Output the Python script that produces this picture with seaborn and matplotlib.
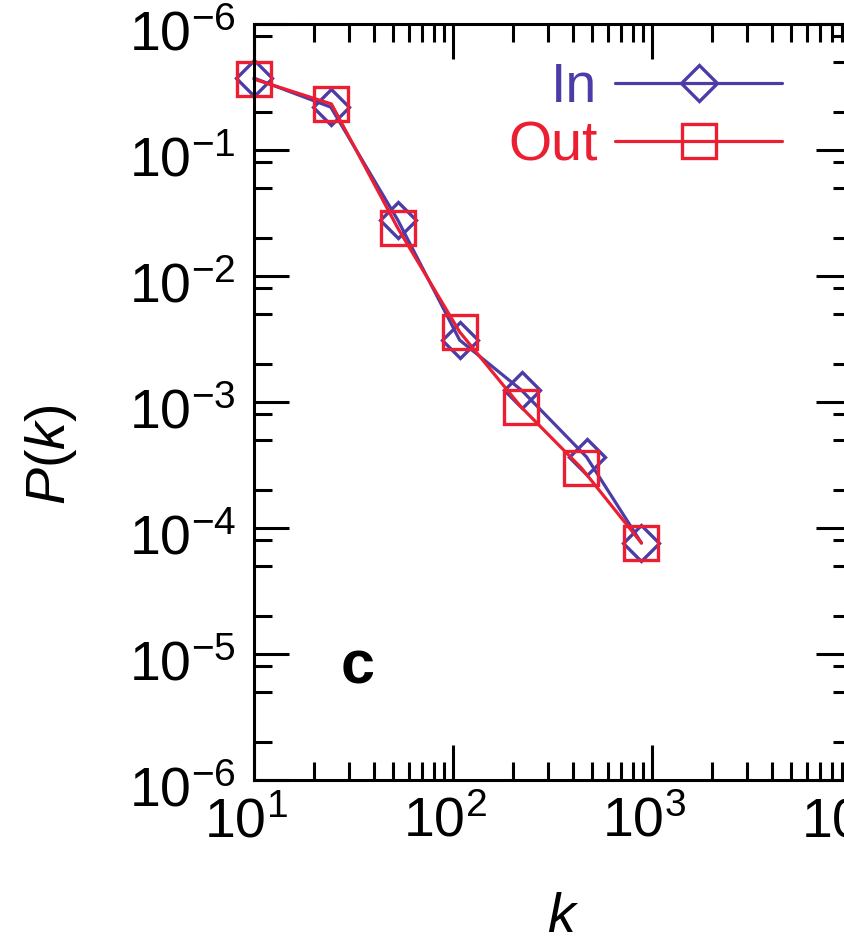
import matplotlib
matplotlib.use("Agg")
import matplotlib.pyplot as plt
import matplotlib.ticker as mticker
import matplotlib.transforms as mtransforms
import seaborn as sns
import pandas as pd

# ---- data ----
k_in = [10, 24.3, 52.8, 108, 221, 469, 885]
p_in = [0.372, 0.219, 0.0278, 0.00310, 0.00124, 3.66e-4, 7.6e-5]
k_out = [10, 24.5, 52.8, 108, 220, 442, 885]
p_out = [0.365, 0.232, 0.0240, 0.00360, 0.000912, 2.99e-4, 7.6e-5]
series_names = ["In", "Out"]

x_ticks = [1e1, 1e2, 1e3, 1e4]
x_tick_labels = [r"$10^{1}$", r"$10^{2}$", r"$10^{3}$", r"$10^{4}$"]
y_ticks = [1e0, 1e-1, 1e-2, 1e-3, 1e-4, 1e-5, 1e-6]
y_tick_labels = [r"$10^{-6}$", r"$10^{-1}$", r"$10^{-2}$", r"$10^{-3}$",
                 r"$10^{-4}$", r"$10^{-5}$", r"$10^{-6}$"]
panel_label = "c"

sns.set_theme(style="ticks")
plt.rcParams["font.family"] = ["Liberation Sans", "DejaVu Sans"]
plt.rcParams["mathtext.fontset"] = "custom"
plt.rcParams["mathtext.rm"] = "Liberation Sans"
plt.rcParams["mathtext.it"] = "Liberation Sans:italic"
plt.rcParams["mathtext.bf"] = "Liberation Sans:bold"
plt.rcParams["text.color"] = "black"

W, H = 845, 946
fig = plt.figure(figsize=(W / 100, H / 100), dpi=100)
ax_left, ax_right, ax_top, ax_bottom = 254, 851, 24, 780
ax = fig.add_axes([ax_left / W, 1 - ax_bottom / H,
                   (ax_right - ax_left) / W, (ax_bottom - ax_top) / H])

c_in = "#4B3CA8"
c_out = "#EB1E32"

df_in = pd.DataFrame({"k": k_in, "P": p_in})
df_out = pd.DataFrame({"k": k_out, "P": p_out})

sns.lineplot(data=df_in, x="k", y="P", ax=ax, color=c_in, lw=2.3,
             marker="D", markersize=18, markerfacecolor="none",
             markeredgecolor=c_in, markeredgewidth=2.4, clip_on=False,
             label=series_names[0], sort=False)
sns.lineplot(data=df_out, x="k", y="P", ax=ax, color=c_out, lw=2.3,
             marker="s", markersize=25, markerfacecolor="none",
             markeredgecolor=c_out, markeredgewidth=2.4, clip_on=False,
             label=series_names[1], sort=False)

ax.set_xscale("log")
ax.set_yscale("log")
ax.set_xlim(1e1, 1e4)
ax.set_ylim(1e-6, 1e0)

ax.xaxis.set_major_locator(mticker.FixedLocator(x_ticks))
ax.xaxis.set_major_formatter(mticker.FixedFormatter(x_tick_labels))
ax.xaxis.set_minor_locator(mticker.LogLocator(base=10, subs=range(2, 10), numticks=20))
ax.xaxis.set_minor_formatter(mticker.NullFormatter())
ax.yaxis.set_major_locator(mticker.FixedLocator(y_ticks))
ax.yaxis.set_major_formatter(mticker.FixedFormatter(y_tick_labels))
ax.yaxis.set_minor_locator(mticker.LogLocator(base=10, subs=[2, 5, 8], numticks=20))
ax.yaxis.set_minor_formatter(mticker.NullFormatter())

for sp in ax.spines.values():
    sp.set_linewidth(2.2)
    sp.set_color("black")
ax.tick_params(which="both", direction="in", top=True, right=True,
               width=2.2, color="black", labelcolor="black")
ax.tick_params(which="major", length=25, labelsize=40)
ax.tick_params(which="minor", length=13)
ax.tick_params(axis="y", which="major", pad=13)
ax.tick_params(axis="x", which="major", pad=12)

xoff = mtransforms.ScaledTranslation(-8 / 100, 0, fig.dpi_scale_trans)
for lab in ax.get_xticklabels():
    lab.set_transform(lab.get_transform() + xoff)
yoff = mtransforms.ScaledTranslation(0, -6 / 100, fig.dpi_scale_trans)
for lab in ax.get_yticklabels():
    lab.set_transform(lab.get_transform() + yoff)

ax.set_xlabel("")
ax.set_ylabel("")
fig.text(563 / W, 1 - 932 / H, r"$k$", fontsize=40, ha="center", va="baseline")
fig.text(51 / W, 1 - 455 / H, r"$P$(" + r"$k$)", fontsize=40, rotation=90,
         ha="center", va="center")
fig.text(358 / W, 1 - 683 / H, panel_label, fontsize=44, fontweight="heavy",
         color="black", ha="center", va="baseline")

leg = ax.legend(loc="upper right", bbox_to_anchor=(782 / W, 1 - 62 / H),
                bbox_transform=fig.transFigure, markerfirst=False,
                frameon=False, fontsize=40, handlelength=3.0,
                handletextpad=0.32, labelspacing=0.12, borderpad=0,
                borderaxespad=0, labelcolor="linecolor")

fig.savefig("out.png", dpi=100)
